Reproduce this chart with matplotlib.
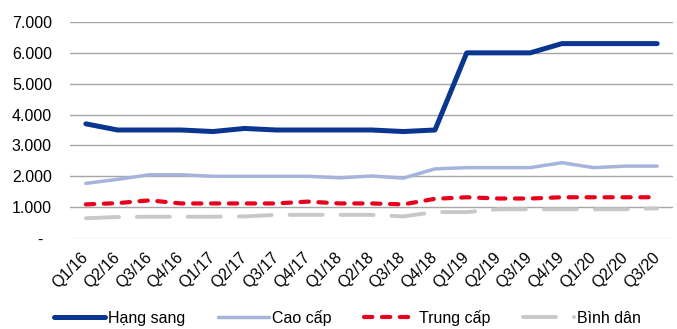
import matplotlib
matplotlib.use("Agg")
import matplotlib.pyplot as plt
from matplotlib.ticker import FuncFormatter

plt.rcParams['font.family'] = ['Liberation Sans', 'DejaVu Sans']

quarters = ["Q1/16", "Q2/16", "Q3/16", "Q4/16", "Q1/17", "Q2/17", "Q3/17", "Q4/17",
            "Q1/18", "Q2/18", "Q3/18", "Q4/18", "Q1/19", "Q2/19", "Q3/19", "Q4/19",
            "Q1/20", "Q2/20", "Q3/20"]

hang_sang = [3700, 3500, 3500, 3500, 3450, 3550, 3500, 3500, 3500, 3500, 3450, 3500,
             6000, 6000, 6000, 6300, 6300, 6300, 6300]
cao_cap = [1770, 1900, 2050, 2050, 2000, 2000, 2000, 2000, 1950, 2010, 1940, 2240,
           2280, 2280, 2280, 2440, 2280, 2330, 2330]
trung_cap = [1090, 1130, 1220, 1120, 1120, 1120, 1120, 1180, 1120, 1120, 1090, 1270,
             1320, 1280, 1280, 1320, 1320, 1320, 1320]
binh_dan = [640, 680, 690, 690, 690, 700, 750, 750, 750, 750, 700, 840,
            840, 930, 930, 930, 930, 930, 960]

y_ticks = [0, 1000, 2000, 3000, 4000, 5000, 6000, 7000]

fig = plt.figure(figsize=(6.77, 3.29), dpi=100)
ax = fig.add_axes([70 / 677, 1 - 238 / 329, 603 / 677, 216 / 329])

x = list(range(len(quarters)))
ax.plot(x, hang_sang, color="#0a3690", lw=3.6, solid_capstyle="round",
        solid_joinstyle="round", label="Hạng sang", zorder=5)
ax.plot(x, cao_cap, color="#a6b4dc", lw=2.5, solid_capstyle="round",
        solid_joinstyle="round", label="Cao cấp", zorder=4)
ax.plot(x, trung_cap, color="#e8001c", lw=3.0, linestyle=(0, (2.0, 2.3)),
        dash_capstyle="round", label="Trung cấp", zorder=4)
ax.plot(x, binh_dan, color="#c8c8c8", lw=2.8, linestyle=(0, (8.5, 4.6)),
        dash_capstyle="round", label="Bình dân", zorder=3)

ax.set_xlim(-0.5, len(quarters) - 0.5)
ax.set_ylim(0, 7000)
ax.set_yticks(y_ticks)
ax.yaxis.set_major_formatter(FuncFormatter(
    lambda v, p: "-  " if v == 0 else f"{int(v):,}".replace(",", ".")))
ax.set_xticks(x)
ax.set_xticklabels(quarters, rotation=45, ha="right", va="center", rotation_mode="anchor")

for v in y_ticks:
    ax.axhline(v, color="#d9d9d9" if v == 0 else "#a6a6a6", lw=1.0, zorder=1)

for s in ax.spines.values():
    s.set_visible(False)
ax.tick_params(axis="both", length=0, labelsize=11.5, colors="#000000")
ax.tick_params(axis="y", pad=13)
ax.tick_params(axis="x", pad=12)

leg = fig.legend(loc="center", bbox_to_anchor=(0.513, 11 / 329), ncol=4, frameon=False,
                 fontsize=11.5, handlelength=3.2, handletextpad=0.2, columnspacing=2.05,
                 borderpad=0)

fig.savefig("out.png", dpi=100)
